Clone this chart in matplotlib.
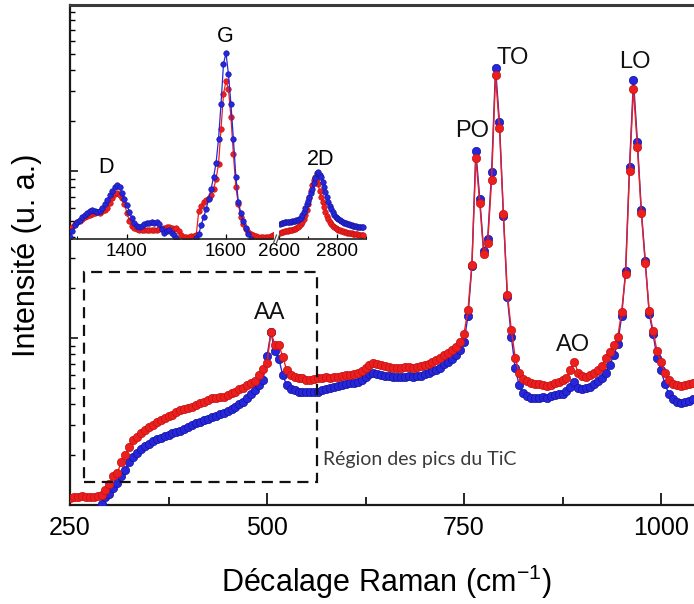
import numpy as np
import matplotlib
matplotlib.use("Agg")
import matplotlib.pyplot as plt
from matplotlib.patches import Rectangle
from matplotlib.lines import Line2D
from matplotlib.ticker import FixedLocator, NullFormatter, LogLocator, MultipleLocator

plt.rcParams['font.family'] = ['Liberation Sans', 'DejaVu Sans']
plt.rcParams['mathtext.default'] = 'regular'

# ---- main spectrum (TiC region), wavenumber grid in cm-1 ----
shift = np.arange(250, 1041, 5)

red_main = [
    1.10, 1.12, 1.12, 1.13, 1.12, 1.12, 1.12, 1.13, 1.15, 1.23,
    1.33, 1.49, 1.55, 1.81, 1.99, 2.22, 2.45, 2.55, 2.70, 2.81,
    2.93, 3.01, 3.14, 3.23, 3.32, 3.41, 3.46, 3.60, 3.71, 3.76,
    3.81, 3.86, 3.97, 4.08, 4.14, 4.26, 4.37, 4.37, 4.43, 4.43,
    4.56, 4.69, 4.75, 4.95, 5.02, 5.23, 5.37, 5.52, 6.00, 6.50,
    7.09, 10.8, 9.08, 9.08, 7.70, 6.43, 6.00, 5.84, 5.76, 5.76,
    5.60, 5.60, 5.68, 5.76, 5.76, 5.84, 5.76, 5.84, 5.84, 5.92,
    6.00, 6.00, 6.08, 6.17, 6.35, 6.60, 6.85, 7.05, 6.99, 6.89,
    6.79, 6.70, 6.62, 6.62, 6.62, 6.70, 6.70, 6.62, 6.70, 6.79,
    6.89, 6.99, 7.19, 7.38, 7.59, 7.91, 8.13, 8.47, 8.84, 9.45,
    10.6, 14.7, 27.5, 120, 64, 32, 37, 88, 375, 180,
    55, 18.2, 11.2, 7.6, 6.2, 5.7, 5.5, 5.37, 5.30, 5.30,
    5.23, 5.16, 5.23, 5.37, 5.45, 5.60, 5.76, 6.43, 7.19, 6.17,
    5.92, 5.84, 6.00, 6.17, 6.43, 6.79, 7.59, 8.25, 9.08, 10.1,
    14.3, 24, 100, 310, 140, 56, 28, 14.5, 11.0, 8.3,
    7.2, 6.2, 5.6, 5.30, 5.23, 5.16, 5.23, 5.30, 5.37,
]

blue_main = [
    0.92, 0.92, 0.92, 0.92, 0.92, 0.92, 0.92, 0.94, 1.02, 1.12,
    1.17, 1.26, 1.35, 1.50, 1.62, 1.82, 1.95, 2.06, 2.15, 2.24,
    2.32, 2.40, 2.48, 2.53, 2.58, 2.64, 2.70, 2.74, 2.78, 2.84,
    2.92, 3.00, 3.08, 3.16, 3.23, 3.28, 3.35, 3.42, 3.50, 3.56,
    3.66, 3.78, 3.88, 4.00, 4.14, 4.35, 4.60, 4.85, 5.20, 5.60,
    7.8, 10.8, 8.3, 7.5, 6.0, 5.2, 4.95, 4.85, 4.78, 4.75,
    4.72, 4.75, 4.75, 4.78, 4.85, 4.95, 5.05, 5.10, 5.15, 5.25,
    5.30, 5.37, 5.40, 5.45, 5.60, 5.80, 6.05, 6.15, 6.05, 6.00,
    5.95, 5.90, 5.85, 5.85, 5.80, 5.85, 5.90, 5.85, 5.90, 5.95,
    6.05, 6.15, 6.30, 6.45, 6.65, 6.95, 7.20, 7.50, 7.90, 8.50,
    9.5, 13.5, 27, 132, 68, 33, 39, 98, 414, 195,
    54, 17.5, 10.2, 6.6, 5.2, 4.7, 4.5, 4.4, 4.35, 4.4,
    4.45, 4.4, 4.5, 4.55, 4.6, 4.65, 4.8, 5.1, 5.45, 5.0,
    4.95, 5.0, 5.1, 5.3, 5.5, 5.75, 6.2, 6.9, 7.9, 9.2,
    13.5, 25, 105, 350, 150, 58, 29, 14, 10.5, 7.6,
    6.4, 5.3, 4.6, 4.3, 4.15, 4.1, 4.12, 4.2, 4.3,
]

# ---- inset: carbon bands, two wavenumber segments ----
shift_dg = np.arange(1285, 1701, 5)
red_dg = [
    9, 12, 15, 17, 18, 20, 22, 23, 24, 25,
    26, 27, 26, 28, 29, 31, 36, 41, 45, 46,
    44, 41, 35, 26, 18, 13, 11, 10, 9, 9,
    9, 9, 9, 9, 9, 9, 10, 10, 11, 12,
    12, 11, 10, 11, 8, 4, 2, 2, 2, 3,
    3, 4, 28, 33, 37, 39, 41, 44, 50, 60,
    75, 110, 145, 158, 150, 122, 85, 52, 35, 22,
    15, 10, 7, 5, 4, 3, 2, 2, 2, 2,
    2, 3, 4, 5,
]
blue_dg = [
    2, 8, 14, 17, 19, 22, 24, 26, 28, 29,
    28, 27, 28, 31, 35, 39, 44, 48, 52, 54,
    52, 46, 40, 34, 27, 21, 16, 13, 12, 13,
    15, 16, 16, 17, 16, 17, 15, 10, 6, 8,
    9, 6, 4, 1, -3, -5, -5, -5, -5, -5,
    -4, 1, 5, 14, 22, 30, 40, 50, 62, 76,
    100, 135, 175, 186, 165, 135, 100, 62, 37, 26,
    18, 11, 5, 0, -4, -5, -5, -5, -5, -5,
    -5, -5, -5, -5,
]

shift_2d = np.arange(2605, 2891, 5)
red_2d = [
    6, 7, 7, 8, 8, 8, 9, 9, 9, 10,
    10, 11, 12, 13, 15, 17, 20, 24, 29, 35,
    41, 48, 54, 59, 62, 60, 55, 48, 42, 37,
    32, 27, 23, 20, 17, 15, 13, 12, 11, 10,
    9, 9, 8, 8, 7, 7, 6, 6, 6, 6,
    5, 5, 5, 5, 4, 4, 4, 4,
]
blue_2d = [
    15, 16, 16, 17, 17, 17, 17, 17, 18, 18,
    18, 19, 19, 20, 21, 24, 27, 31, 35, 38,
    42, 46, 50, 56, 61, 66, 67, 64, 62, 57,
    52, 47, 42, 37, 33, 30, 27, 24, 22, 21,
    20, 19, 18, 17, 16, 16, 15, 15, 14, 14,
    13, 13, 13, 12, 12, 12, 12, 12,
]

RED = '#ec1f1f'
RED_EDGE = '#c41010'
BLUE = '#2626dc'
BLUE_EDGE = '#14149a'

W, H = 694, 604
fig = plt.figure(figsize=(W / 100, H / 100), dpi=100)


def px_box(x0, y0, x1, y1):
    """Axes rectangle from pixel corners (top-left origin)."""
    return [x0 / W, 1 - y1 / H, (x1 - x0) / W, (y1 - y0) / H]


ax = fig.add_axes(px_box(70, 5, 702, 505))
ax.plot(shift, blue_main, '-o', color=BLUE, lw=1.0, ms=6.0,
        mfc=BLUE, mec=BLUE_EDGE, mew=0.5, zorder=3)
ax.plot(shift, red_main, '-o', color=RED, lw=1.0, ms=6.0,
        mfc=RED, mec=RED_EDGE, mew=0.5, zorder=4)

ax.set_yscale('log')
ax.set_xlim(250, 1052)
ax.set_ylim(1, 985)
ax.xaxis.set_major_locator(FixedLocator([250, 500, 750, 1000]))
ax.xaxis.set_minor_locator(FixedLocator([375, 625, 875]))
ax.yaxis.set_major_locator(LogLocator(base=10))
ax.yaxis.set_minor_locator(LogLocator(base=10, subs=np.arange(2, 10)))
ax.yaxis.set_major_formatter(NullFormatter())
ax.yaxis.set_minor_formatter(NullFormatter())
ax.tick_params(axis='x', which='major', direction='in', length=8.5, width=1.2,
               labelsize=18, pad=8)
ax.tick_params(axis='x', which='minor', direction='in', length=5.5, width=1.2)
ax.tick_params(axis='y', which='major', direction='in', length=6, width=1.1)
ax.tick_params(axis='y', which='minor', direction='in', length=3.5, width=1.0)
ax.spines['right'].set_visible(False)
ax.spines['top'].set_linewidth(2.2)
ax.spines['top'].set_color('#3a3a3a')
for side in ('left', 'bottom'):
    ax.spines[side].set_linewidth(1.6)
    ax.spines[side].set_color('#1a1a1a')

ax.set_xlabel('Décalage Raman (cm$^{-1}$)', fontsize=22, labelpad=16)
ax.set_ylabel('Intensité (u. a.)', fontsize=22, labelpad=17)

# peak labels
for txt, xv, yv in [('PO', 760, 174), ('TO', 812, 475), ('LO', 967, 450),
                    ('AO', 888, 9.1), ('AA', 504, 14.1)]:
    ax.text(xv, yv, txt, fontsize=17, ha='center', va='center', color='#111111')

# dashed box around the TiC peak region
ax.add_patch(Rectangle((268, 1.373), 563.5 - 268, 24.8 - 1.373, fill=False,
                       edgecolor='#111111', lw=1.6, linestyle=(0, (5, 3)),
                       zorder=5))
ax.text(571, 1.86, 'Région des pics du TiC', fontsize=14, family=['Lato', 'DejaVu Sans'],
        color='#3a3a3a', ha='left', va='center')

# ---- inset (broken x axis) ----
ins1 = fig.add_axes(px_box(70, 5, 273, 239))
ins2 = fig.add_axes(px_box(279, 5, 366, 239))
for a in (ins1, ins2):
    a.set_facecolor('none')
    for side in ('left', 'right', 'top'):
        a.spines[side].set_visible(False)
    a.spines['bottom'].set_linewidth(1.2)
    a.spines['bottom'].set_color('#222222')
    a.set_ylim(0, 234)
    a.set_yticks([])
    a.tick_params(axis='x', which='major', direction='in', length=3.5, width=0.9,
                  labelsize=13.5, pad=3)
    a.tick_params(axis='x', which='minor', direction='in', length=2, width=0.8)

ins1.plot(shift_dg, red_dg, '-o', color=RED, lw=0.9, ms=4.0,
          mfc=RED, mec=RED_EDGE, mew=0.4)
ins1.plot(shift_dg, blue_dg, '-o', color=BLUE, lw=0.9, ms=4.0,
          mfc=BLUE, mec=BLUE_EDGE, mew=0.4)
ins1.set_xlim(1285, 1695)
ins1.xaxis.set_major_locator(FixedLocator([1400, 1600]))
ins1.xaxis.set_minor_locator(MultipleLocator(100))

ins2.plot(shift_2d, red_2d, '-o', color=RED, lw=0.9, ms=4.0,
          mfc=RED, mec=RED_EDGE, mew=0.4)
ins2.plot(shift_2d, blue_2d, '-o', color=BLUE, lw=0.9, ms=4.0,
          mfc=BLUE, mec=BLUE_EDGE, mew=0.4)
ins2.set_xlim(2600, 2900)
ins2.xaxis.set_major_locator(FixedLocator([2600, 2800]))
ins2.xaxis.set_minor_locator(MultipleLocator(100))

ins1.text(1358, 72, 'D', fontsize=15.5, ha='center', va='center')
ins1.text(1598, 203, 'G', fontsize=15.5, ha='center', va='center')
ins2.text(2743, 80, '2D', fontsize=15.5, ha='center', va='center')

# axis-break marks between the two inset segments
for x0 in (273.5, 276.5):
    fig.add_artist(Line2D([x0 / W, (x0 + 3) / W], [1 - 243 / H, 1 - 235 / H],
                          color='#555555', lw=0.9))

fig.savefig('out.png', dpi=100)
